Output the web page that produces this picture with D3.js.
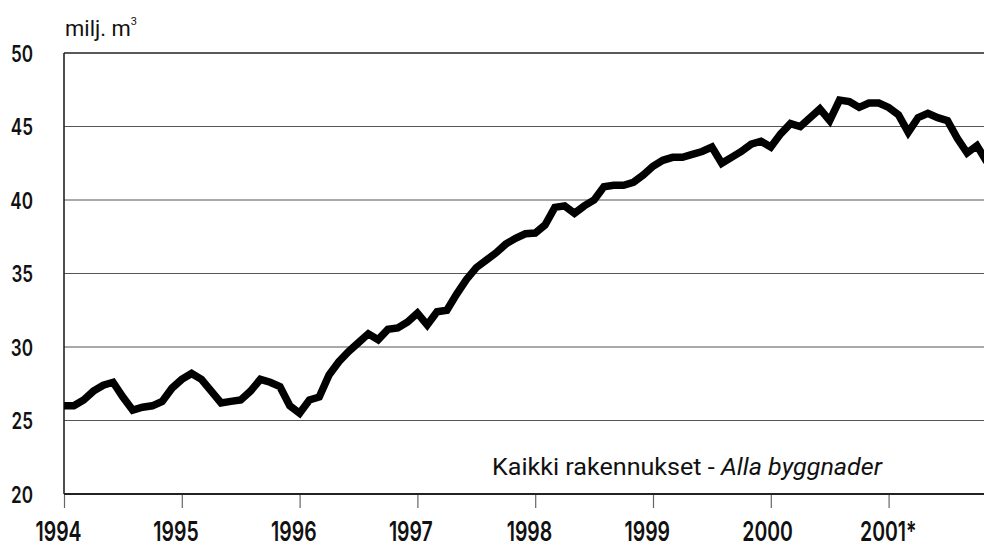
<!DOCTYPE html>
<html>
<head>
<meta charset="utf-8">
<script src="https://cdn.jsdelivr.net/npm/d3@7"></script>
<style>
  body { margin: 0; background: #fff; }
  svg { display: block; font-family: Roboto, "Liberation Sans", sans-serif; }
  .grid line { stroke: #555; stroke-width: 1.2; }
  .xaxis text, .yaxis text { fill: #111; font-family: Inter, "Liberation Sans", sans-serif; font-weight: 600; }
</style>
</head>
<body>
<svg id="svg"></svg>
<script>
// monthly series, Jan 1994 .. Nov 2001 (milj. m3)
const startYear = 1994;
const values = [
  26.0, 26.0, 26.4, 27.0, 27.4, 27.6, 26.6, 25.7, 25.9, 26.0, 26.3, 27.2, // 1994
  27.8, 28.2, 27.8, 27.0, 26.2, 26.3, 26.4, 27.0, 27.8, 27.6, 27.3, 26.0, // 1995
  25.5, 26.4, 26.6, 28.1, 29.0, 29.7, 30.3, 30.9, 30.5, 31.2, 31.3, 31.7, // 1996
  32.3, 31.5, 32.4, 32.5, 33.6, 34.6, 35.4, 35.9, 36.4, 37.0, 37.4, 37.7, // 1997
  37.75, 38.3, 39.5, 39.6, 39.1, 39.6, 40.0, 40.9, 41.0, 41.0, 41.2, 41.7, // 1998
  42.3, 42.7, 42.9, 42.9, 43.1, 43.3, 43.6, 42.5, 42.9, 43.3, 43.8, 44.0, // 1999
  43.6, 44.5, 45.2, 45.0, 45.6, 46.2, 45.4, 46.8, 46.7, 46.3, 46.6, 46.6, // 2000
  46.3, 45.8, 44.6, 45.6, 45.9, 45.6, 45.4, 44.2, 43.2, 43.7, 42.6        // 2001
];
const yearTicks = [1994, 1995, 1996, 1997, 1998, 1999, 2000, 2001];
const yearLabels = ['1994', '1995', '1996', '1997', '1998', '1999', '2000', '2001*'];
const yTicks = [20, 25, 30, 35, 40, 45, 50];

const W = 984, H = 544;
const margin = { top: 53, right: 0, bottom: 50, left: 64 };
const plotBottom = H - margin.bottom;

const svg = d3.select('#svg').attr('width', W).attr('height', H);

const x = d3.scaleLinear().domain([1994, 2002]).range([margin.left, margin.left + 8 * 117.8]);
const y = d3.scaleLinear().domain([20, 50]).range([plotBottom, margin.top]);

// horizontal grid
svg.append('g')
  .attr('class', 'grid')
  .selectAll('line')
  .data(yTicks.filter(d => d > 20 && d < 50))
  .join('line')
  .attr('x1', margin.left).attr('x2', W)
  .attr('y1', d => y(d)).attr('y2', d => y(d));

// frame: top, left
svg.append('line')
  .attr('x1', margin.left).attr('x2', W)
  .attr('y1', y(50)).attr('y2', y(50))
  .attr('stroke', '#222').attr('stroke-width', 1.6);
svg.append('line')
  .attr('x1', margin.left).attr('x2', margin.left)
  .attr('y1', y(50)).attr('y2', y(20))
  .attr('stroke', '#222').attr('stroke-width', 1.6);

// x axis
const xAxis = d3.axisBottom(x)
  .tickValues(yearTicks)
  .tickFormat((d, i) => yearLabels[i])
  .tickSize(14);
const gx = svg.append('g')
  .attr('class', 'xaxis')
  .attr('transform', `translate(0,${plotBottom})`)
  .call(xAxis);
gx.select('.domain').remove();
gx.selectAll('.tick line').attr('stroke', '#666').attr('stroke-width', 1.2);
gx.selectAll('.tick text')
  .attr('font-size', 27)
  .attr('y', 0).attr('dy', 0)
  .attr('text-anchor', 'start')
  .attr('transform', 'translate(-29,46.5) scale(0.72,1)');
svg.append('line')
  .attr('x1', margin.left).attr('x2', W)
  .attr('y1', plotBottom).attr('y2', plotBottom)
  .attr('stroke', '#222').attr('stroke-width', 2);

// y axis
const yAxis = d3.axisLeft(y).tickValues(yTicks).tickSize(0);
const gy = svg.append('g')
  .attr('class', 'yaxis')
  .attr('transform', `translate(${margin.left},0)`)
  .call(yAxis);
gy.select('.domain').remove();
gy.selectAll('.tick text')
  .attr('font-size', 22.5)
  .attr('x', 0).attr('dy', 0)
  .attr('transform', 'translate(-31,8) scale(0.76,1)');

// unit label
const unit = svg.append('text')
  .attr('x', 65).attr('y', 36)
  .attr('font-size', 22)
  .attr('fill', '#111');
unit.append('tspan').text('milj. m');
unit.append('tspan').attr('font-size', 11).attr('dy', -11).text('3');

// series line
const line = d3.line()
  .x((d, i) => x(startYear + i / 12))
  .y(d => y(d));

svg.append('clipPath').attr('id', 'clip')
  .append('rect').attr('x', margin.left).attr('y', 0).attr('width', W - margin.left).attr('height', H);

svg.append('path')
  .datum(values)
  .attr('clip-path', 'url(#clip)')
  .attr('fill', 'none')
  .attr('stroke', '#000')
  .attr('stroke-width', 7.5)
  .attr('stroke-linejoin', 'miter')
  .attr('stroke-miterlimit', 3)
  .attr('d', line);

// series label
const lbl = svg.append('text')
  .attr('x', 492).attr('y', 475)
  .attr('font-size', 23)
  .attr('fill', '#111')
  .attr('textLength', 390)
  .attr('lengthAdjust', 'spacingAndGlyphs');
lbl.append('tspan').text('Kaikki rakennukset - ');
lbl.append('tspan').attr('font-style', 'italic').text('Alla byggnader');
</script>
</body>
</html>
